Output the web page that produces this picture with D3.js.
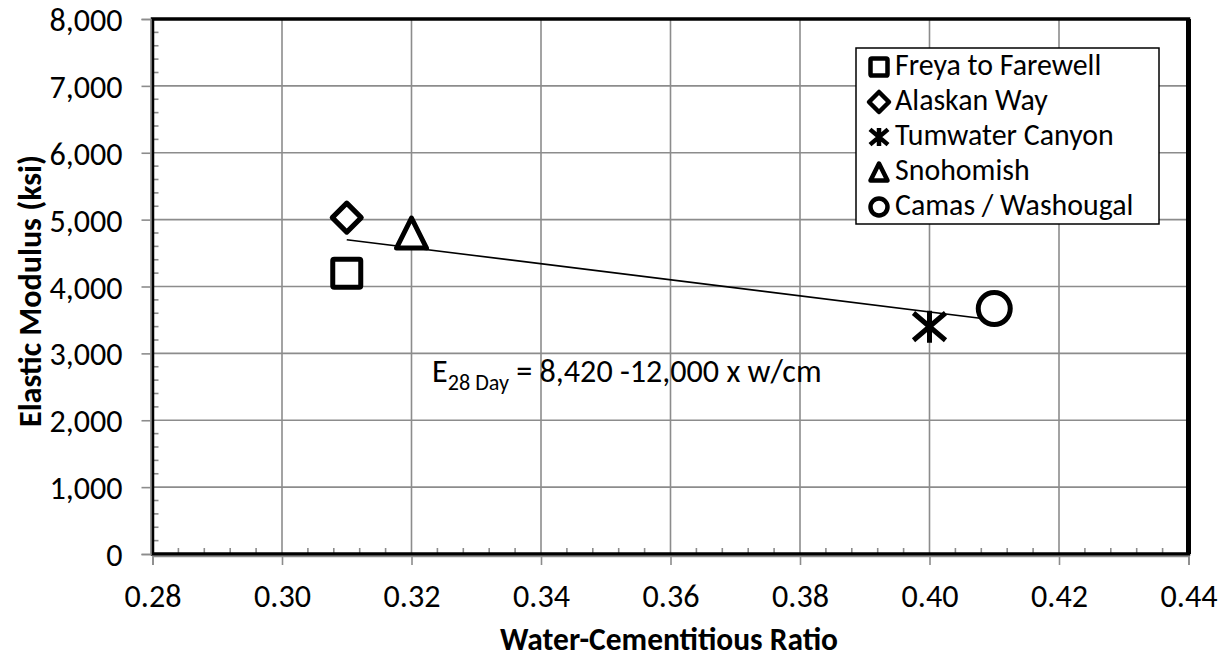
<!DOCTYPE html>
<html>
<head>
<meta charset="utf-8">
<script src="https://cdn.jsdelivr.net/npm/d3@7"></script>
<style>
  html, body { margin: 0; padding: 0; background: #fff; }
  svg text { font-family: Carlito, Calibri, Lato, "Open Sans", sans-serif; fill: #000; }
</style>
</head>
<body>
<svg id="chart" width="1225" height="660"></svg>
<script>
// ---- data ----
const seriesNames = ["Freya to Farewell", "Alaskan Way", "Tumwater Canyon", "Snohomish", "Camas / Washougal"];
const seriesSymbols = ["square", "diamond", "asterisk", "triangle", "circle"];
const wcRatio = [0.31, 0.31, 0.40, 0.32, 0.41];
const elasticModulus = [4200, 5030, 3400, 4800, 3670];
const xTicks = [0.28, 0.30, 0.32, 0.34, 0.36, 0.38, 0.40, 0.42, 0.44];
const yTicks = [0, 1000, 2000, 3000, 4000, 5000, 6000, 7000, 8000];
const trendIntercept = 8420;
const trendSlope = -12000;
const trendRange = [0.31, 0.41];

const svg = d3.select("#chart");
const FONT = "Carlito, Calibri, Lato, 'Open Sans', sans-serif";

// measure helper to match reference text widths with the available font
function measure(str, size, weight) {
  const t = svg.append("text").attr("font-size", size).attr("font-weight", weight)
    .style("font-family", FONT).text(str);
  const w = t.node().getComputedTextLength();
  t.remove();
  return w;
}
const REG = 32 * 222 / measure("Freya to Farewell", 32, "normal");
const BOLD = 32 * 345 / measure("Water-Cementitious Ratio", 32, "bold");

const L = 152.5, R = 1188.5, T = 19, B = 554;
const x = d3.scaleLinear().domain([0.28, 0.44]).range([L, R]);
const y = d3.scaleLinear().domain([0, 8000]).range([B, T]);
const grid = "#8c8c8c";

// gridlines
svg.append("g").selectAll("line").data(xTicks).join("line")
  .attr("x1", d => x(d)).attr("x2", d => x(d)).attr("y1", T).attr("y2", B)
  .attr("stroke", grid).attr("stroke-width", 1.6);
svg.append("g").selectAll("line").data(yTicks).join("line")
  .attr("x1", L).attr("x2", R).attr("y1", d => y(d)).attr("y2", d => y(d))
  .attr("stroke", grid).attr("stroke-width", 1.6);

// minor ticks (inside)
const xMinor = d3.range(0, 41).map(i => 0.28 + i * 0.004).filter((d, i) => i % 5 !== 0);
const yMinor = d3.range(0, 41).map(i => i * 200).filter((d, i) => i % 5 !== 0);
svg.append("g").selectAll("line").data(xMinor).join("line")
  .attr("x1", d => x(d)).attr("x2", d => x(d)).attr("y1", B).attr("y2", B - 6)
  .attr("stroke", grid).attr("stroke-width", 1.6);
svg.append("g").selectAll("line").data(yMinor).join("line")
  .attr("x1", L).attr("x2", L + 6).attr("y1", d => y(d)).attr("y2", d => y(d))
  .attr("stroke", grid).attr("stroke-width", 1.6);

// frame
svg.append("rect").attr("x", L).attr("y", T).attr("width", R - L).attr("height", B - T)
  .attr("fill", "none").attr("stroke", "#000").attr("stroke-width", 3.5);
svg.append("line").attr("x1", R).attr("x2", R).attr("y1", T).attr("y2", B)
  .attr("stroke", "#000").attr("stroke-width", 5);

// axes (gray lines with major ticks outside)
const xAxis = d3.axisBottom(x).tickValues(xTicks).tickFormat(d3.format(".2f")).tickSize(9).tickPadding(12);
const gx = svg.append("g").attr("transform", `translate(0,${B + 2})`).call(xAxis);
gx.select(".domain").attr("stroke", grid).attr("stroke-width", 1.6);
gx.selectAll(".tick line").attr("stroke", grid).attr("stroke-width", 1.6);
gx.selectAll("text").attr("font-size", REG).style("font-family", FONT)
  .attr("dy", null).attr("y", 51);

const yAxis = d3.axisLeft(y).tickValues(yTicks).tickFormat(d3.format(",")).tickSize(9).tickPadding(19);
const gy = svg.append("g").attr("transform", `translate(${L - 2},0)`).call(yAxis);
gy.select(".domain").attr("stroke", grid).attr("stroke-width", 1.6);
gy.selectAll(".tick line").attr("stroke", grid).attr("stroke-width", 1.6);
gy.selectAll("text").attr("font-size", REG).style("font-family", FONT).attr("dy", "0.36em");

// axis titles
svg.append("text").attr("x", 669).attr("y", 650).attr("text-anchor", "middle")
  .attr("font-size", BOLD * 0.98).attr("font-weight", "bold").text("Water-Cementitious Ratio");
svg.append("text").attr("transform", "translate(41,291) rotate(-90)").attr("text-anchor", "middle")
  .attr("font-size", BOLD).attr("font-weight", "bold").text("Elastic Modulus (ksi)");

// trendline
svg.append("line")
  .attr("x1", x(trendRange[0])).attr("y1", y(trendIntercept + trendSlope * trendRange[0]))
  .attr("x2", x(trendRange[1])).attr("y2", y(trendIntercept + trendSlope * trendRange[1]))
  .attr("stroke", "#000").attr("stroke-width", 1.6);

// marker drawing
function drawMarker(g, type, cx, cy, s, sw) {
  const h = s / 2;
  if (type === "square") {
    g.append("rect").attr("x", cx - h).attr("y", cy - h).attr("width", s).attr("height", s)
      .attr("rx", sw * 0.3).attr("fill", "#fff").attr("stroke", "#000").attr("stroke-width", sw);
  } else if (type === "diamond") {
    g.append("path").attr("d", `M${cx},${cy - h}L${cx + h},${cy}L${cx},${cy + h}L${cx - h},${cy}Z`)
      .attr("fill", "#fff").attr("stroke", "#000").attr("stroke-width", sw).attr("stroke-linejoin", "round");
  } else if (type === "triangle") {
    g.append("path").attr("d", `M${cx},${cy - h}L${cx + h},${cy + h}L${cx - h},${cy + h}Z`)
      .attr("fill", "#fff").attr("stroke", "#000").attr("stroke-width", sw).attr("stroke-linejoin", "round");
  } else if (type === "circle") {
    g.append("circle").attr("cx", cx).attr("cy", cy).attr("r", h)
      .attr("fill", "#fff").attr("stroke", "#000").attr("stroke-width", sw);
  } else if (type === "asterisk") {
    const k = h * 0.85;
    g.append("path").attr("d", `M${cx - h},${cy - k}L${cx + h},${cy + k}M${cx + h},${cy - k}L${cx - h},${cy + k}M${cx},${cy - h}L${cx},${cy + h}`)
      .attr("fill", "none").attr("stroke", "#000").attr("stroke-width", sw);
  }
}

const markerSize = { square: 28, diamond: 29, triangle: 30, circle: 32, asterisk: 32 };
const gm = svg.append("g");
seriesNames.forEach((n, i) => {
  drawMarker(gm, seriesSymbols[i], x(wcRatio[i]), y(elasticModulus[i]), markerSize[seriesSymbols[i]], 5);
});

// equation
const eq = svg.append("text").attr("x", 432).attr("y", 382).attr("font-size", REG);
eq.append("tspan").text("E");
eq.append("tspan").attr("font-size", REG * 0.69).attr("dy", 8).text("28 Day");
eq.append("tspan").attr("dy", -8).text(" = 8,420 -12,000 x w/cm");

// legend
const lg = svg.append("g");
lg.append("rect").attr("x", 856).attr("y", 48).attr("width", 303).attr("height", 176)
  .attr("fill", "#fff").attr("stroke", "#000").attr("stroke-width", 1.5);
const legSize = { square: 17, diamond: 20, triangle: 17, circle: 17, asterisk: 18 };
seriesNames.forEach((n, i) => {
  const base = 75 + i * 35;
  drawMarker(lg, seriesSymbols[i], 879, base - 8, legSize[seriesSymbols[i]], 4.5);
  lg.append("text").attr("x", 895).attr("y", base).attr("font-size", REG * 0.93).text(n);
});
</script>
</body>
</html>
